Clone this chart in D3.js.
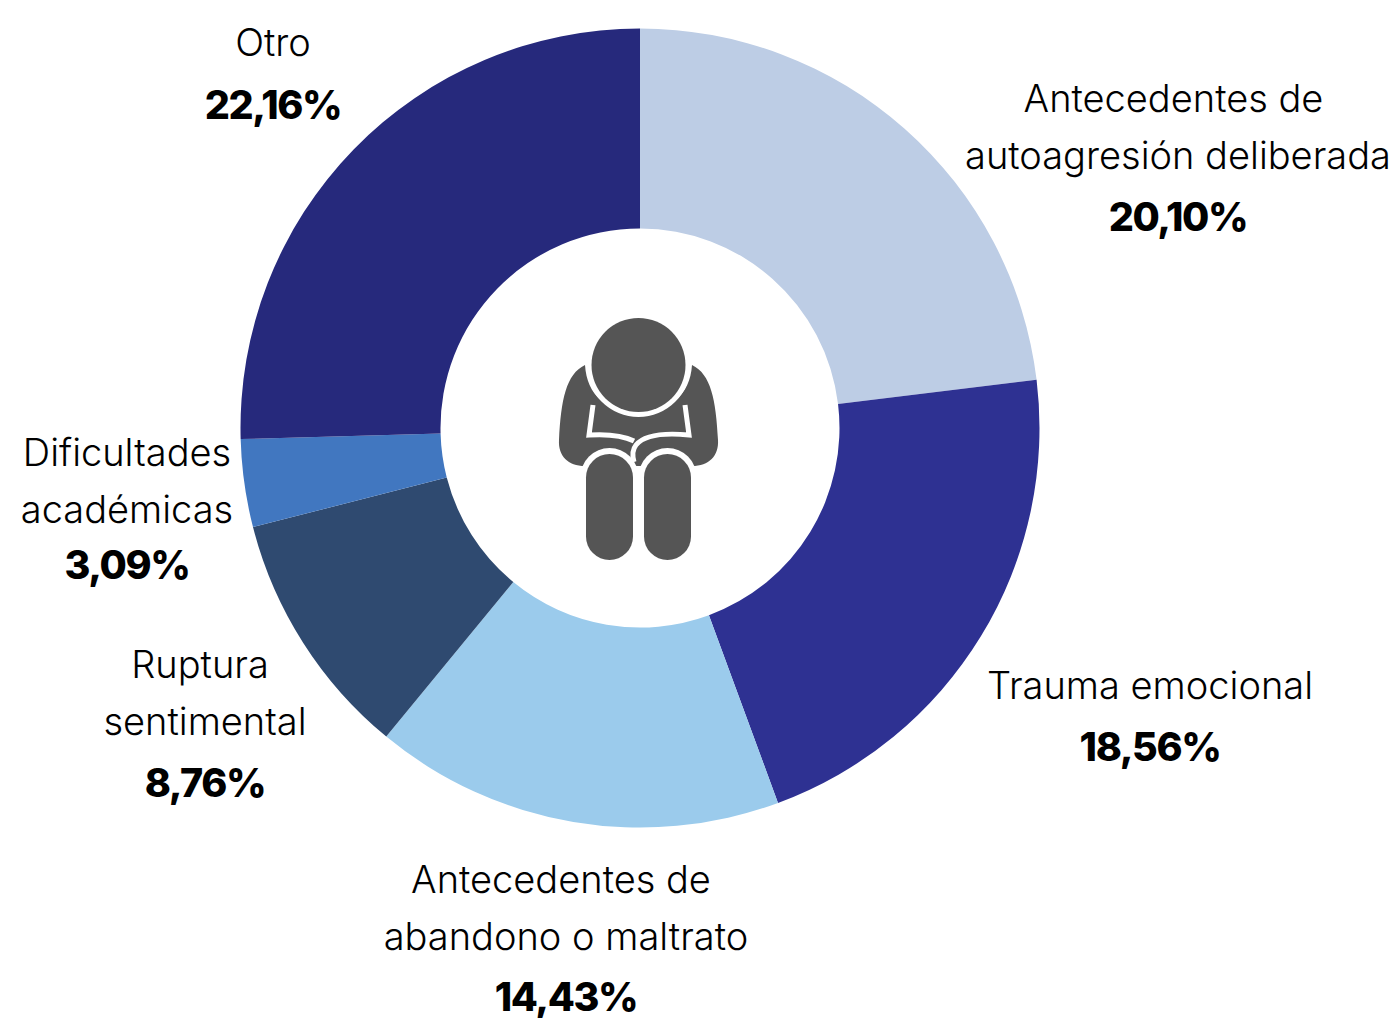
<!DOCTYPE html>
<html><head><meta charset="utf-8"><style>html,body{margin:0;background:#fff}svg{display:block}text{font-family:Inter,"Noto Sans",sans-serif;fill:#000}</style>
<script src="https://cdn.jsdelivr.net/npm/d3@7/dist/d3.min.js"></script></head><body>
<script>
const categories=["Antecedentes de autoagresión deliberada","Trauma emocional","Antecedentes de abandono o maltrato","Ruptura sentimental","Dificultades académicas","Otro"];
const values=[20.10,18.56,14.43,8.76,3.09,22.16];
const valueLabels=["20,10%","18,56%","14,43%","8,76%","3,09%","22,16%"];
const colors=["#bdcde5","#2e3192","#9bcbec","#2f4a70","#4177c0","#26297c"];
const labelLines=[["Antecedentes de","autoagresión deliberada"],["Trauma emocional"],["Antecedentes de","abandono o maltrato"],["Ruptura","sentimental"],["Dificultades","académicas"],["Otro"]];
const lineX=[[1173.5,1178],[1150],[561,566],[200,205],[127,127],[273]];
const labelY=[112,699,893,678,466,56];
const valueX=[1178,1150,566,205,127,273];
const valueY=[231,761,1011,797,579,119];
const svg=d3.select("body").append("svg").attr("width",1396).attr("height",1018);
const g=svg.append("g").attr("transform","translate(640,428)");
const arc=d3.arc().innerRadius(199.5).outerRadius(399.5);
const pie=d3.pie().sort(null)(values);
g.selectAll("path").data(pie).join("path").attr("d",arc).attr("fill",(d,i)=>colors[i]);
categories.forEach((c,i)=>{
 labelLines[i].forEach((l,j)=>svg.append("text").attr("x",lineX[i][j]).attr("y",labelY[i]+j*57).attr("text-anchor","middle").attr("font-size",38).attr("font-weight",300).text(l));
 svg.append("text").attr("x",valueX[i]).attr("y",valueY[i]).attr("text-anchor","middle").attr("font-size",39.5).attr("font-weight",800).attr("letter-spacing",-1.4).text(valueLabels[i]);
});
const ic=svg.append("g").attr("fill","#555");
ic.append("path").attr("d","M585 365C566 374 561 400 559 440C558 456 568 466 585 466L692 466C709 466 719 456 718 440C716 400 711 374 692 365C690 395 670 412 638 412C606 412 587 395 585 365Z");
ic.append("circle").attr("cx",638.5).attr("cy",365).attr("r",52).attr("fill","#fff");
ic.append("circle").attr("cx",638.5).attr("cy",365).attr("r",47);
ic.append("path").attr("d","M593 405L589 435C605 434 622 435 634 441M685 405L689 435C668 433 645 434 636 445C632 450 632 455 634 462").attr("fill","none").attr("stroke","#fff").attr("stroke-width",5);
ic.append("rect").attr("x",580.5).attr("y",448).attr("width",58).attr("height",118).attr("rx",29).attr("fill","#fff");
ic.append("rect").attr("x",638.5).attr("y",448).attr("width",58).attr("height",118).attr("rx",29).attr("fill","#fff");
ic.append("rect").attr("x",586).attr("y",454).attr("width",47).attr("height",106).attr("rx",23.5);
ic.append("rect").attr("x",644).attr("y",454).attr("width",47).attr("height",106).attr("rx",23.5);
</script></body></html>
